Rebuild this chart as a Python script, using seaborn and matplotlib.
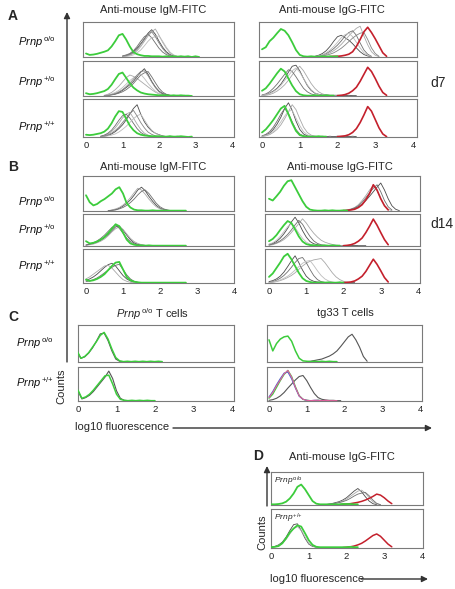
import matplotlib
matplotlib.use("Agg")
import matplotlib.pyplot as plt
from matplotlib.patches import FancyArrowPatch
import numpy as np
import seaborn as sns

# ---------------- data (histogram heights, 0.1 log-unit bins, relative to box height) -------------
TICKS = [0, 1, 2, 3, 4]
TICK_LABELS = ["0", "1", "2", "3", "4"]
GENOTYPES = ["o/o", "{+}/o", "{+}/{+}"]

# Panel A left: anti-mouse IgM d7
AL1_green = (0.0, [0.10,0.06,0.07,0.09,0.12,0.15,0.19,0.30,0.45,0.62,0.66,0.50,0.30,0.14,0.08,0.05,0.03,0.03,0.02,0.02,0.02,0.01,0.02,0.01,0.02,0.01,0.02,0.01,0.02,0.00,0.02,0.00])
AL1_gray = [(1.0, [0.02,0.04,0.08,0.15,0.25,0.38,0.52,0.68,0.78,0.65,0.45,0.28,0.15,0.07,0.03,0.01,0.02,0.01,0.02]),
            (1.0, [0.01,0.02,0.05,0.10,0.18,0.30,0.45,0.60,0.72,0.80,0.62,0.42,0.25,0.12,0.05,0.02]),
            (1.0, [0.03,0.06,0.10,0.18,0.30,0.45,0.58,0.65,0.55,0.40,0.25,0.14,0.07,0.03,0.01]),
            (1.0, [0.01,0.02,0.03,0.06,0.12,0.20,0.32,0.45,0.55,0.58,0.60,0.45,0.28,0.14,0.06,0.02]),
            (1.0, [0.02,0.04,0.07,0.12,0.22,0.36,0.50,0.66,0.72,0.58,0.40,0.24,0.12,0.05,0.02])]
AL2_green = (0.0, [0.08,0.05,0.06,0.08,0.11,0.14,0.20,0.32,0.48,0.63,0.67,0.52,0.36,0.24,0.16,0.10,0.07,0.05,0.04,0.03,0.02,0.02,0.02,0.01,0.02,0.01,0.02,0.01,0.01,0.00])
AL2_gray = [(0.5, [0.01,0.02,0.04,0.06,0.10,0.16,0.24,0.32,0.42,0.55,0.68,0.78,0.62,0.42,0.26,0.14,0.07,0.04,0.02,0.01,0.02,0.01,0.02]),
            (0.5, [0.02,0.05,0.10,0.18,0.28,0.40,0.52,0.60,0.56,0.50,0.42,0.34,0.26,0.18,0.11,0.06,0.03,0.01]),
            (0.5, [0.01,0.02,0.03,0.05,0.08,0.12,0.18,0.26,0.36,0.48,0.60,0.66,0.70,0.55,0.38,0.22,0.11,0.05,0.02,0.01]),
            (0.5, [0.01,0.03,0.06,0.10,0.16,0.24,0.34,0.44,0.52,0.58,0.62,0.50,0.36,0.24,0.14,0.07,0.03,0.01]),
            (0.5, [0.01,0.02,0.04,0.07,0.12,0.18,0.27,0.37,0.48,0.60,0.70,0.72,0.58,0.40,0.24,0.12,0.05,0.02])]
AL3_green = (0.0, [0.06,0.05,0.06,0.08,0.10,0.14,0.22,0.36,0.54,0.68,0.66,0.48,0.30,0.18,0.10,0.06,0.04,0.03,0.02,0.02,0.02,0.01,0.01,0.02,0.01,0.01,0.02,0.01,0.00,0.01])
AL3_gray = [(0.4, [0.01,0.02,0.04,0.08,0.14,0.22,0.32,0.45,0.60,0.75,0.85,0.60,0.40,0.26,0.16,0.10,0.06,0.03,0.01,0.02,0.01,0.02,0.01,0.01]),
            (0.4, [0.02,0.04,0.08,0.14,0.24,0.36,0.50,0.60,0.65,0.50,0.34,0.20,0.10,0.05,0.02,0.01]),
            (0.4, [0.02,0.05,0.10,0.18,0.30,0.44,0.56,0.60,0.50,0.36,0.22,0.12,0.06,0.03,0.01]),
            (0.4, [0.01,0.02,0.03,0.05,0.08,0.13,0.20,0.28,0.38,0.48,0.56,0.60,0.45,0.30,0.18,0.10,0.05,0.02,0.01]),
            (0.4, [0.01,0.03,0.06,0.10,0.17,0.26,0.38,0.50,0.62,0.70,0.55,0.38,0.24,0.13,0.07,0.03,0.01])]

# Panel A right: anti-mouse IgG d7
AR1_green = (0.0, [0.22,0.28,0.45,0.55,0.68,0.80,0.75,0.62,0.42,0.20,0.06,0.02,0.01,0.02,0.01,0.01,0.02,0.01,0.02,0.01,0.02])
AR1_red = (1.8, [0.01,0.02,0.02,0.03,0.05,0.08,0.15,0.30,0.50,0.72,0.85,0.70,0.52,0.32,0.12,0.02])
AR1_gray = [(1.4, [0.02,0.05,0.10,0.18,0.30,0.45,0.58,0.62,0.55,0.48,0.38,0.26,0.15,0.07,0.03,0.01]),
            (1.4, [0.01,0.02,0.04,0.07,0.12,0.18,0.26,0.36,0.48,0.60,0.72,0.82,0.88,0.60,0.35,0.15,0.05,0.01]),
            (1.4, [0.01,0.03,0.06,0.10,0.16,0.24,0.34,0.46,0.60,0.70,0.75,0.62,0.40,0.20,0.08,0.02]),
            (1.4, [0.01,0.03,0.06,0.12,0.20,0.30,0.42,0.55,0.64,0.68,0.58,0.42,0.26,0.12,0.05,0.01]),
            (1.4, [0.01,0.02,0.03,0.05,0.08,0.12,0.18,0.25,0.34,0.44,0.54,0.62,0.68,0.70,0.50,0.26,0.10,0.02])]
AR2_green = (0.0, [0.15,0.22,0.35,0.50,0.65,0.78,0.70,0.50,0.30,0.14,0.05,0.02,0.01,0.01,0.02,0.01,0.01,0.02,0.01,0.01])
AR2_red = (2.0, [0.01,0.02,0.04,0.08,0.15,0.25,0.42,0.62,0.82,0.70,0.50,0.28,0.10,0.02])
AR2_gray = [(0.0, [0.02,0.04,0.08,0.14,0.22,0.34,0.50,0.68,0.85,0.88,0.72,0.50,0.30,0.16,0.08,0.05,0.03,0.03,0.02,0.02,0.02,0.02,0.01,0.02,0.01,0.01]),
            (0.0, [0.01,0.02,0.04,0.08,0.14,0.22,0.32,0.45,0.60,0.75,0.85,0.72,0.54,0.36,0.22,0.12,0.06,0.03,0.02,0.02,0.02,0.01]),
            (0.0, [0.03,0.06,0.12,0.22,0.34,0.48,0.62,0.75,0.70,0.55,0.38,0.22,0.12,0.06,0.03,0.02,0.01]),
            (0.0, [0.02,0.04,0.07,0.12,0.20,0.30,0.44,0.58,0.72,0.80,0.68,0.50,0.32,0.18,0.09,0.04,0.02,0.01])]
AR3_green = (0.0, [0.12,0.20,0.32,0.45,0.60,0.75,0.82,0.60,0.36,0.16,0.05,0.02,0.01,0.01,0.01,0.02,0.01,0.01])
AR3_red = (2.0, [0.01,0.02,0.03,0.06,0.12,0.22,0.38,0.58,0.80,0.68,0.46,0.24,0.08,0.01])
AR3_gray = [(0.0, [0.02,0.05,0.10,0.20,0.34,0.52,0.75,0.90,0.70,0.42,0.20,0.08,0.03,0.02,0.02,0.01,0.02,0.01,0.02,0.01,0.02,0.01,0.02,0.01,0.02,0.01]),
            (0.0, [0.01,0.03,0.06,0.12,0.20,0.32,0.48,0.66,0.85,0.72,0.48,0.26,0.12,0.05,0.02,0.01]),
            (0.0, [0.03,0.07,0.14,0.26,0.42,0.60,0.75,0.62,0.40,0.20,0.08,0.03,0.01]),
            (0.0, [0.02,0.04,0.08,0.15,0.26,0.40,0.55,0.68,0.70,0.50,0.30,0.14,0.06,0.02,0.01])]

# Panel B left: anti-mouse IgM d14
BL1_green = (0.0, [0.45,0.25,0.16,0.20,0.28,0.34,0.42,0.50,0.62,0.68,0.50,0.22,0.10,0.04,0.02,0.02,0.01,0.01,0.02,0.01,0.01,0.01,0.01,0.01,0.01,0.01,0.01,0.01])
BL1_gray = [(0.6, [0.01,0.02,0.04,0.08,0.14,0.22,0.32,0.45,0.60,0.68,0.58,0.42,0.28,0.16,0.08,0.04,0.02,0.01]),
            (0.6, [0.01,0.03,0.06,0.10,0.17,0.26,0.38,0.52,0.65,0.60,0.48,0.34,0.22,0.12,0.06,0.03,0.01]),
            (0.6, [0.01,0.02,0.03,0.06,0.10,0.16,0.24,0.34,0.46,0.56,0.60,0.50,0.36,0.22,0.12,0.06,0.03,0.01])]
BL2_green = (0.0, [0.15,0.08,0.10,0.14,0.20,0.28,0.40,0.54,0.68,0.62,0.42,0.20,0.08,0.04,0.02,0.02,0.01,0.02,0.01,0.01,0.01,0.01,0.01,0.01,0.01,0.01,0.01,0.01])
BL2_gray = [(0.0, [0.03,0.05,0.08,0.12,0.18,0.26,0.36,0.48,0.60,0.62,0.50,0.34,0.20,0.10,0.05,0.03,0.02,0.01]),
            (0.0, [0.02,0.04,0.06,0.10,0.15,0.22,0.32,0.44,0.54,0.60,0.52,0.38,0.24,0.14,0.08,0.04,0.02,0.01]),
            (0.0, [0.03,0.06,0.10,0.16,0.24,0.34,0.46,0.58,0.66,0.55,0.40,0.25,0.14,0.07,0.03,0.01])]
BL3_green = (0.0, [0.10,0.06,0.08,0.12,0.18,0.26,0.38,0.50,0.60,0.62,0.40,0.18,0.08,0.04,0.02,0.01,0.01,0.01,0.01,0.01,0.01,0.01,0.01,0.01,0.01,0.01,0.01,0.01])
BL3_gray = [(0.0, [0.08,0.12,0.18,0.26,0.36,0.46,0.54,0.58,0.50,0.36,0.22,0.12,0.06,0.03,0.02,0.01]),
            (0.0, [0.12,0.18,0.26,0.34,0.42,0.50,0.52,0.44,0.32,0.20,0.10,0.05,0.02,0.01]),
            (0.0, [0.04,0.06,0.10,0.15,0.22,0.30,0.38,0.46,0.52,0.55,0.40,0.24,0.12,0.05,0.02,0.01])]

# Panel B right: anti-mouse IgG d14
BR1_green = (0.0, [0.35,0.30,0.42,0.55,0.72,0.85,0.88,0.68,0.48,0.28,0.12,0.04,0.02,0.01,0.01,0.02,0.01,0.02,0.01,0.01,0.02,0.01])
BR1_red = (2.0, [0.01,0.02,0.03,0.05,0.10,0.18,0.32,0.50,0.75,0.60,0.35,0.15,0.03])
BR1_gray = [(2.0, [0.01,0.02,0.04,0.07,0.12,0.20,0.30,0.42,0.55,0.68,0.80,0.60,0.35,0.15,0.05,0.01]),
            (2.0, [0.01,0.03,0.06,0.10,0.18,0.30,0.44,0.60,0.72,0.58,0.36,0.16,0.05,0.01]),
            (2.0, [0.01,0.02,0.05,0.09,0.15,0.25,0.38,0.52,0.65,0.75,0.55,0.30,0.12,0.03])]
BR2_green = (0.0, [0.15,0.22,0.34,0.50,0.65,0.78,0.72,0.52,0.30,0.14,0.06,0.03,0.02,0.02,0.01,0.02,0.01,0.02,0.01,0.01])
BR2_red = (2.0, [0.01,0.02,0.04,0.08,0.15,0.25,0.42,0.62,0.84,0.65,0.42,0.20,0.04])
BR2_gray = [(0.0, [0.05,0.08,0.14,0.24,0.38,0.55,0.75,0.90,0.72,0.48,0.28,0.14,0.07,0.04,0.02,0.02,0.01,0.02,0.01,0.02,0.01,0.01,0.01,0.02,0.01,0.01,0.01]),
            (0.0, [0.02,0.04,0.08,0.13,0.20,0.30,0.42,0.56,0.70,0.85,0.72,0.55,0.40,0.28,0.18,0.12,0.08,0.05,0.03,0.02,0.01]),
            (0.0, [0.03,0.06,0.10,0.16,0.25,0.36,0.50,0.66,0.80,0.68,0.48,0.30,0.16,0.08,0.04,0.02,0.01]),
            (0.0, [0.06,0.10,0.18,0.30,0.45,0.60,0.70,0.58,0.40,0.24,0.12,0.06,0.03,0.01])]
BR3_green = (0.0, [0.18,0.28,0.44,0.60,0.78,0.86,0.70,0.50,0.30,0.14,0.06,0.03,0.01,0.01,0.02,0.01,0.02,0.01,0.01,0.02,0.01])
BR3_red = (2.0, [0.01,0.02,0.03,0.06,0.12,0.20,0.34,0.52,0.70,0.55,0.36,0.16,0.03])
BR3_gray = [(0.0, [0.04,0.07,0.12,0.20,0.32,0.48,0.65,0.80,0.60,0.38,0.20,0.10,0.05,0.03,0.02,0.01,0.01,0.02,0.01,0.02,0.01,0.02,0.01,0.01]),
            (0.0, [0.01,0.02,0.04,0.07,0.11,0.16,0.22,0.30,0.40,0.50,0.58,0.64,0.68,0.70,0.72,0.60,0.45,0.30,0.18,0.10,0.05,0.02,0.01]),
            (0.0, [0.02,0.04,0.08,0.14,0.22,0.33,0.46,0.60,0.72,0.75,0.60,0.40,0.22,0.10,0.04,0.02,0.01]),
            (0.0, [0.01,0.03,0.05,0.09,0.14,0.20,0.28,0.38,0.48,0.58,0.64,0.66,0.52,0.36,0.22,0.12,0.06,0.03,0.01])]

# Panel C left: Prnp o/o T cells
CL1_green = (0.0, [0.30,0.10,0.15,0.25,0.40,0.55,0.72,0.80,0.62,0.35,0.12,0.03,0.01,0.02,0.01,0.02,0.01,0.02,0.01,0.02,0.01,0.02,0.01])
CL1_gray = (0.0, [0.30,0.10,0.14,0.24,0.38,0.56,0.76,0.78,0.58,0.30,0.08,0.02,0.01])
CL2_green = (0.0, [0.32,0.08,0.12,0.20,0.32,0.46,0.60,0.74,0.76,0.50,0.20,0.05,0.02,0.01,0.02,0.01,0.02,0.01,0.02,0.01,0.01])
CL2_gray = (0.0, [0.30,0.06,0.10,0.17,0.28,0.42,0.56,0.70,0.88,0.66,0.30,0.08,0.02,0.01])

# Panel C right: tg33 T cells
CR1_green = (0.0, [0.60,0.30,0.50,0.62,0.68,0.70,0.56,0.30,0.10,0.03,0.02,0.01,0.02,0.01,0.02,0.01,0.02,0.01,0.01])
CR1_gray = (1.0, [0.01,0.02,0.04,0.06,0.08,0.12,0.16,0.22,0.30,0.42,0.55,0.68,0.75,0.60,0.40,0.15,0.02])
CR2_pink = (0.0, [0.10,0.25,0.45,0.62,0.80,0.90,0.70,0.40,0.15,0.05,0.02,0.01,0.02,0.02,0.01,0.02,0.01,0.01,0.01])
CR2_blue = (0.0, [0.12,0.28,0.48,0.66,0.82,0.85,0.65,0.38,0.14,0.05,0.02,0.01,0.02,0.02,0.01,0.01])
CR2_green = (0.0, [0.08,0.20,0.40,0.60,0.78,0.90,0.72,0.42,0.16,0.05,0.02,0.01,0.01,0.02,0.01])
CR2_gray = (0.0, [0.02,0.04,0.08,0.15,0.25,0.38,0.50,0.62,0.72,0.75,0.60,0.40,0.22,0.10,0.05,0.03,0.02,0.02,0.01,0.01])

# Panel D: anti-mouse IgG
D1_green = (0.0, [0.02,0.02,0.03,0.05,0.10,0.20,0.35,0.55,0.62,0.48,0.30,0.12,0.04,0.02,0.02,0.02,0.02,0.02,0.02,0.03,0.03,0.03,0.02,0.02])
D1_red = (1.8, [0.01,0.02,0.03,0.04,0.06,0.08,0.11,0.15,0.20,0.26,0.33,0.30,0.22,0.12,0.04])
D1_gray = [(1.4, [0.01,0.02,0.04,0.07,0.10,0.15,0.22,0.32,0.42,0.50,0.40,0.25,0.12,0.04,0.01]),
           (1.4, [0.01,0.02,0.03,0.05,0.08,0.12,0.18,0.26,0.34,0.42,0.45,0.36,0.22,0.10,0.03,0.01]),
           (1.4, [0.01,0.02,0.03,0.05,0.07,0.10,0.14,0.20,0.27,0.33,0.36,0.38,0.28,0.15,0.05,0.01])]
D2_green = (0.0, [0.02,0.03,0.05,0.12,0.25,0.40,0.50,0.58,0.55,0.38,0.20,0.08,0.03,0.02,0.02,0.02,0.02,0.02,0.02,0.02,0.02,0.03,0.02,0.02])
D2_red = (1.9, [0.01,0.02,0.03,0.05,0.08,0.12,0.18,0.25,0.32,0.36,0.30,0.20,0.10,0.03])
D2_gray = [(0.0, [0.02,0.04,0.08,0.15,0.28,0.45,0.60,0.62,0.45,0.25,0.10,0.04,0.02,0.01]),
           (0.0, [0.02,0.03,0.06,0.12,0.22,0.36,0.50,0.55,0.45,0.28,0.12,0.05,0.02,0.01])]

# ---------------- styling ----------------
W, H = 455, 589
sns.set_style("white")
plt.rcParams['font.family'] = ['Liberation Sans', 'DejaVu Sans']
plt.rcParams['mathtext.fontset'] = 'custom'
plt.rcParams['mathtext.rm'] = 'Liberation Sans'
plt.rcParams['mathtext.it'] = 'Liberation Sans:italic'
plt.rcParams['mathtext.bf'] = 'Liberation Sans:bold'

GREEN = "#3ccc3c"
RED = "#c4202c"
GRAYS = ["#4a4a4a", "#a8a8a8", "#6e6e6e", "#bdbdbd", "#858585"]
PINK = "#e0609a"
BLUE = "#4a68c8"
FRAME = "#7a7a7a"

fig = plt.figure(figsize=(W / 100, H / 100), dpi=100)
fig.patch.set_facecolor("white")


def make_box(x0, y0, x1, y1, t0, t4, ticks=False):
    ax = fig.add_axes([x0 / W, 1 - y1 / H, (x1 - x0) / W, (y1 - y0) / H])
    s = (t4 - t0) / 4.0
    ax.set_xlim((x0 - t0) / s, (x1 - t0) / s)
    ax.set_ylim(0, 1.0)
    ax.set_yticks([])
    for sp in ax.spines.values():
        sp.set_color(FRAME)
        sp.set_linewidth(0.8)
    if ticks:
        ax.set_xticks(TICKS)
        ax.set_xticklabels(TICK_LABELS, fontsize=6.8, color="#222222")
        ax.tick_params(axis="x", length=0, pad=3)
    else:
        ax.set_xticks([])
    ax.set_facecolor("white")
    return ax


def draw(ax, curve, color, lw, alpha=1.0, z=2):
    start, hs = curve
    xs = [round(start + 0.1 * i, 2) for i in range(len(hs))]
    sns.lineplot(x=xs, y=hs, ax=ax, color=color, linewidth=lw, alpha=alpha,
                 zorder=z, estimator=None, sort=False, legend=False)


def draw_grays(ax, grays):
    for i, c in enumerate(grays):
        draw(ax, c, GRAYS[i % len(GRAYS)], 0.6, z=2)


def label(x, y, geno, size=8):
    fig.text(x / W, 1 - y / H, r"$\mathit{Prnp}^{\,\mathrm{" + geno + "}}$",
             fontsize=size, ha="left", va="center", color="#111111")


# ---------- Panel A ----------
rowsA = [(22, 57), (61, 96), (99, 137)]
AL_green = [AL1_green, AL2_green, AL3_green]
AL_gray = [AL1_gray, AL2_gray, AL3_gray]
AR_green = [AR1_green, AR2_green, AR3_green]
AR_gray = [AR1_gray, AR2_gray, AR3_gray]
AR_red = [AR1_red, AR2_red, AR3_red]
for i, (y0, y1) in enumerate(rowsA):
    ax = make_box(83, y0, 234, y1, 86, 232, ticks=(i == 2))
    draw_grays(ax, AL_gray[i])
    draw(ax, AL_green[i], GREEN, 1.3, z=3)
    ax = make_box(259, y0, 417, y1, 262, 413, ticks=(i == 2))
    draw_grays(ax, AR_gray[i])
    draw(ax, AR_red[i], RED, 1.2, z=3)
    draw(ax, AR_green[i], GREEN, 1.3, z=3)
for (y, g) in zip([42, 82, 127], GENOTYPES):
    label(18, y, g)

# ---------- Panel B ----------
rowsB = [(176, 211), (214, 246), (249, 283)]
BL_green = [BL1_green, BL2_green, BL3_green]
BL_gray = [BL1_gray, BL2_gray, BL3_gray]
BR_green = [BR1_green, BR2_green, BR3_green]
BR_gray = [BR1_gray, BR2_gray, BR3_gray]
BR_red = [BR1_red, BR2_red, BR3_red]
for i, (y0, y1) in enumerate(rowsB):
    ax = make_box(83, y0, 234, y1, 86, 234, ticks=(i == 2))
    draw_grays(ax, BL_gray[i])
    draw(ax, BL_green[i], GREEN, 1.3, z=3)
    ax = make_box(265, y0, 420, y1, 269, 418, ticks=(i == 2))
    draw_grays(ax, BR_gray[i])
    draw(ax, BR_red[i], RED, 1.2, z=3)
    draw(ax, BR_green[i], GREEN, 1.3, z=3)
for (y, g) in zip([202, 230, 266], GENOTYPES):
    label(18, y, g)

# ---------- Panel C ----------
ax = make_box(78, 325, 234, 362, 77, 232)
draw(ax, CL1_gray, "#555555", 0.8, z=2)
draw(ax, CL1_green, GREEN, 1.1, z=3)
ax = make_box(78, 367, 234, 401, 77, 232, ticks=True)
draw(ax, CL2_gray, "#555555", 0.8, z=2)
draw(ax, CL2_green, GREEN, 1.1, z=3)
ax = make_box(267, 325, 422, 362, 269, 420)
draw(ax, CR1_gray, "#555555", 0.8, z=2)
draw(ax, CR1_green, GREEN, 1.1, z=3)
ax = make_box(267, 367, 422, 401, 269, 420, ticks=True)
draw(ax, CR2_gray, "#555555", 0.8, z=2)
draw(ax, CR2_green, GREEN, 0.9, z=3)
draw(ax, CR2_blue, BLUE, 0.8, z=3)
draw(ax, CR2_pink, PINK, 0.8, z=3)
label(16, 343, "o/o")
label(16, 383, "{+}/{+}")

# ---------- Panel D ----------
ax = make_box(271, 472, 423, 505, 271, 422)
draw_grays(ax, D1_gray)
draw(ax, D1_red, RED, 1.1, z=3)
draw(ax, D1_green, GREEN, 1.3, z=3)
ax.text(0.02, 0.92, r"$\mathit{Prnp}^{\,\mathrm{o/o}}$", transform=ax.transAxes,
        fontsize=6, ha="left", va="top")
ax = make_box(271, 509, 423, 548, 271, 422, ticks=True)
draw_grays(ax, D2_gray)
draw(ax, D2_red, RED, 1.1, z=3)
draw(ax, D2_green, GREEN, 1.3, z=3)
ax.text(0.02, 0.94, r"$\mathit{Prnp}^{\,\mathrm{{+}/{+}}}$", transform=ax.transAxes,
        fontsize=6, ha="left", va="top")

# ---------- texts ----------
def ftext(x, y, s, **kw):
    fig.text(x / W, 1 - y / H, s, **kw)

for (x, y, s) in [(8, 16, "A"), (8, 167, "B"), (8, 317, "C"), (253, 456, "D")]:
    ftext(x, y, s, fontsize=10, fontweight="bold", ha="left", va="center")
ftext(153, 10, "Anti-mouse IgM-FITC", fontsize=8, ha="center", va="center")
ftext(332, 10, "Anti-mouse IgG-FITC", fontsize=8, ha="center", va="center")
ftext(153, 167, "Anti-mouse IgM-FITC", fontsize=8, ha="center", va="center")
ftext(340, 167, "Anti-mouse IgG-FITC", fontsize=8, ha="center", va="center")
ftext(153, 314, r"$\mathit{Prnp}^{\,\mathrm{o/o}}$ T cells", fontsize=8, ha="center", va="center")
ftext(345, 313, "tg33 T cells", fontsize=8, ha="center", va="center")
ftext(342, 457, "Anti-mouse IgG-FITC", fontsize=8, ha="center", va="center")
ftext(430, 83, "d7", fontsize=10, ha="left", va="center")
ftext(430, 224, "d14", fontsize=10, ha="left", va="center")
ftext(61, 386, "Counts", fontsize=8, rotation=90, ha="center", va="center")
ftext(262, 532, "Counts", fontsize=8, rotation=90, ha="center", va="center")
ftext(75, 427, "log10 fluorescence", fontsize=8, ha="left", va="center")
ftext(270, 579, "log10 fluorescence", fontsize=8, ha="left", va="center")

# ---------- arrows ----------
def arrow(p0, p1):
    a = FancyArrowPatch((p0[0] / W, 1 - p0[1] / H), (p1[0] / W, 1 - p1[1] / H),
                        transform=fig.transFigure, arrowstyle="-|>", mutation_scale=9,
                        color="#333333", linewidth=1.0, shrinkA=0, shrinkB=0)
    fig.add_artist(a)

arrow((67, 362), (67, 12))
arrow((173, 428), (432, 428))
arrow((267, 506), (267, 466))
arrow((361, 579), (428, 579))

fig.savefig("out.png", dpi=100, facecolor="white")
